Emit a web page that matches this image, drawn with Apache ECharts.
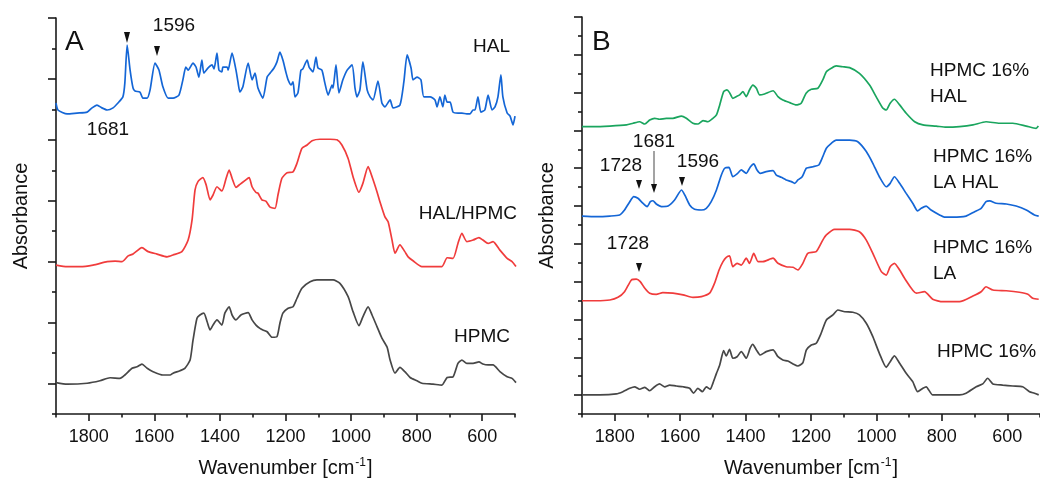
<!DOCTYPE html>
<html>
<head>
<meta charset="utf-8">
<script src="https://cdn.jsdelivr.net/npm/echarts@6/dist/echarts.min.js"></script>
<style>
html,body{margin:0;padding:0;background:#fff;}
#chart{width:1040px;height:479px;}
</style>
</head>
<body>
<div id="chart"></div>
<script>
// ---------- tick labels ----------
const xMajorTicks = [600, 800, 1000, 1200, 1400, 1600, 1800];
const xMinorTicks = [500, 700, 900, 1100, 1300, 1500, 1700, 1900];
const yMajorA = [1, 3, 5, 7, 9, 11, 13];
const yMinorA = [0, 2, 4, 6, 8, 10, 12];
const yMajorB = [1, 3, 5, 7, 9, 11, 13, 15, 17, 19, 21];
const yMinorB = [0, 2, 4, 6, 8, 10, 12, 14, 16, 18, 20];

// ---------- Panel A series: [wavenumber, absorbance (offset units)] ----------
const halA = [[1900,10.21],[1894,9.98],[1866,9.85],[1836,9.88],[1805,9.91],[1790,10.05],[1775,10.14],[1760,10.05],[1744,9.98],[1726,10.05],[1711,10.21],[1696,10.41],[1690,10.87],[1683,12.11],[1674,11.29],[1665,10.70],[1659,10.60],[1644,10.57],[1635,10.37],[1622,10.37],[1613,10.64],[1598,11.52],[1586,11.29],[1574,10.74],[1558,10.37],[1543,10.37],[1525,10.47],[1513,10.97],[1504,11.39],[1497,11.29],[1482,11.52],[1473,11.39],[1464,11.06],[1455,11.62],[1449,11.19],[1436,11.36],[1424,11.46],[1418,11.33],[1409,11.85],[1403,11.29],[1394,11.23],[1391,11.39],[1378,11.39],[1375,11.29],[1363,11.85],[1351,11.29],[1345,10.90],[1339,10.57],[1330,10.74],[1314,11.52],[1302,10.97],[1293,11.19],[1284,10.70],[1269,10.37],[1256,11.06],[1247,11.19],[1235,11.36],[1226,11.56],[1217,11.88],[1208,11.62],[1198,11.19],[1192,10.97],[1183,10.80],[1177,10.90],[1171,10.41],[1162,10.54],[1153,11.29],[1147,11.33],[1134,11.62],[1128,11.39],[1116,11.23],[1107,11.72],[1101,11.36],[1089,11.29],[1080,10.87],[1070,10.47],[1058,10.80],[1055,10.70],[1046,11.46],[1037,10.54],[1025,10.97],[1012,11.29],[997,11.46],[988,10.70],[982,10.41],[973,10.64],[964,11.56],[951,10.64],[942,10.41],[933,10.31],[918,10.93],[906,10.21],[897,10.08],[881,10.31],[872,10.05],[851,10.14],[839,10.90],[829,11.79],[817,11.36],[811,10.97],[799,11.06],[787,10.97],[778,10.41],[759,10.41],[744,10.31],[738,10.08],[729,10.41],[720,10.08],[714,10.47],[707,10.24],[698,10.24],[689,9.91],[674,9.88],[662,9.88],[647,9.85],[637,9.85],[628,9.98],[622,9.98],[613,10.41],[604,9.91],[592,9.98],[582,10.47],[570,9.98],[561,10.08],[552,10.41],[543,11.13],[537,10.41],[524,9.88],[515,9.78],[506,9.49],[500,9.78]];

const halHpmcA = [[1900,4.89],[1866,4.84],[1827,4.84],[1787,4.89],[1744,5.00],[1720,5.02],[1699,5.00],[1680,5.19],[1665,5.25],[1638,5.46],[1619,5.33],[1592,5.25],[1561,5.16],[1543,5.22],[1516,5.33],[1497,5.71],[1485,6.37],[1476,7.35],[1467,7.63],[1452,7.76],[1442,7.52],[1430,7.03],[1421,7.19],[1409,7.46],[1394,7.32],[1381,7.74],[1372,8.01],[1363,7.74],[1351,7.44],[1339,7.54],[1324,7.66],[1311,7.76],[1302,7.46],[1290,7.27],[1284,7.25],[1272,7.03],[1260,6.99],[1247,6.79],[1232,6.75],[1223,7.19],[1211,7.74],[1195,7.92],[1177,7.95],[1165,8.23],[1150,8.72],[1134,8.83],[1119,8.97],[1095,9.02],[1064,9.02],[1043,9.00],[1028,8.83],[1009,8.39],[994,7.79],[976,7.28],[964,7.57],[948,8.12],[936,7.79],[921,7.30],[912,6.97],[897,6.48],[887,6.31],[875,5.71],[866,5.28],[851,5.55],[836,5.33],[826,5.16],[811,5.03],[784,4.84],[759,4.84],[723,4.84],[707,5.13],[689,5.11],[674,5.60],[662,5.93],[647,5.66],[628,5.71],[610,5.79],[598,5.71],[582,5.60],[567,5.66],[546,5.38],[524,5.11],[509,5.00],[497,4.84]];

const hpmcA = [[1900,1.03],[1866,0.98],[1805,1.01],[1766,1.09],[1735,1.19],[1705,1.17],[1690,1.28],[1668,1.50],[1653,1.55],[1638,1.64],[1622,1.50],[1604,1.39],[1574,1.28],[1552,1.28],[1543,1.34],[1522,1.42],[1507,1.50],[1491,1.77],[1482,2.43],[1470,3.14],[1461,3.25],[1449,3.31],[1439,3.03],[1430,2.76],[1421,2.92],[1409,3.09],[1394,2.92],[1385,3.31],[1372,3.52],[1363,3.25],[1351,3.09],[1336,3.25],[1314,3.33],[1302,3.09],[1290,2.92],[1278,2.81],[1269,2.76],[1256,2.70],[1241,2.52],[1226,2.54],[1217,2.98],[1208,3.31],[1192,3.47],[1177,3.52],[1165,3.80],[1150,4.13],[1125,4.34],[1104,4.40],[1055,4.40],[1034,4.29],[1009,3.85],[994,3.36],[976,2.90],[964,3.19],[948,3.52],[936,3.25],[921,2.87],[906,2.49],[890,2.19],[881,1.77],[866,1.34],[851,1.53],[836,1.39],[820,1.20],[799,1.09],[784,1.01],[750,0.98],[723,0.95],[707,1.20],[689,1.22],[674,1.66],[662,1.77],[647,1.66],[628,1.66],[610,1.71],[598,1.64],[582,1.61],[567,1.61],[546,1.39],[524,1.22],[509,1.17],[497,1.03]];

// ---------- Panel B series ----------
const hpmc16HalB = [[1900,15.20],[1866,15.20],[1815,15.23],[1764,15.29],[1744,15.38],[1724,15.46],[1708,15.34],[1693,15.55],[1678,15.64],[1663,15.59],[1642,15.64],[1622,15.64],[1596,15.76],[1581,15.64],[1561,15.38],[1546,15.34],[1530,15.52],[1515,15.46],[1500,15.64],[1489,15.82],[1479,16.35],[1467,17.05],[1457,17.14],[1449,17.00],[1439,16.70],[1428,16.79],[1418,16.88],[1408,17.05],[1398,16.79],[1388,17.14],[1378,17.40],[1367,17.23],[1357,16.88],[1342,16.93],[1316,17.10],[1301,16.79],[1286,16.61],[1265,16.47],[1245,16.35],[1230,16.44],[1215,16.97],[1199,17.18],[1179,17.23],[1164,17.67],[1153,18.11],[1138,18.29],[1123,18.41],[1103,18.37],[1082,18.32],[1052,18.02],[1021,17.40],[1001,16.79],[980,16.17],[970,16.08],[958,16.44],[945,16.65],[929,16.35],[909,15.91],[883,15.46],[858,15.29],[817,15.23],[787,15.17],[746,15.20],[705,15.29],[665,15.46],[624,15.38],[583,15.38],[542,15.23],[512,15.11],[505,15.23]];

const hpmc16LaHalB = [[1900,10.47],[1856,10.44],[1815,10.47],[1785,10.53],[1770,10.79],[1754,11.23],[1742,11.50],[1729,11.41],[1714,11.15],[1701,10.97],[1691,11.23],[1683,11.28],[1673,11.11],[1657,10.97],[1637,11.00],[1617,11.32],[1596,11.85],[1586,11.59],[1571,11.06],[1556,10.83],[1535,10.79],[1520,10.88],[1505,11.23],[1489,11.85],[1474,12.64],[1464,13.00],[1451,13.05],[1439,12.55],[1426,12.70],[1413,12.91],[1398,12.73],[1385,13.08],[1375,13.23],[1365,12.91],[1355,12.73],[1337,12.82],[1316,12.87],[1306,12.64],[1291,12.52],[1276,12.38],[1260,12.29],[1250,12.20],[1240,12.38],[1227,12.55],[1214,13.00],[1194,13.08],[1176,13.17],[1164,13.61],[1153,14.06],[1138,14.32],[1123,14.49],[1082,14.49],[1057,14.40],[1031,13.88],[1011,13.26],[991,12.55],[970,12.02],[958,12.20],[945,12.55],[929,12.20],[909,11.67],[889,11.15],[874,10.74],[863,10.88],[848,11.00],[833,10.79],[807,10.53],[792,10.41],[767,10.41],[726,10.47],[700,10.70],[680,10.88],[665,11.23],[654,11.27],[634,11.15],[603,11.11],[573,11.00],[542,10.79],[517,10.53],[504,10.47]];

const hpmc16LaB = [[1900,5.99],[1856,5.99],[1815,6.03],[1790,6.17],[1770,6.47],[1749,7.09],[1734,7.13],[1722,7.00],[1708,6.65],[1693,6.39],[1673,6.33],[1653,6.42],[1622,6.39],[1591,6.30],[1561,6.17],[1535,6.21],[1510,6.39],[1495,6.91],[1481,7.62],[1469,8.06],[1459,8.29],[1449,8.36],[1439,7.79],[1426,7.97],[1413,7.88],[1398,8.24],[1388,7.97],[1375,8.50],[1362,8.06],[1347,8.06],[1316,8.24],[1301,7.97],[1276,7.79],[1255,7.76],[1240,7.62],[1225,7.97],[1210,8.50],[1184,8.59],[1164,9.20],[1153,9.47],[1128,9.77],[1082,9.77],[1052,9.64],[1031,9.20],[1011,8.50],[985,7.53],[970,7.35],[958,7.79],[945,7.97],[929,7.62],[914,7.18],[878,6.39],[853,6.47],[828,6.07],[797,5.94],[746,5.94],[705,6.24],[680,6.47],[665,6.73],[644,6.56],[603,6.52],[563,6.44],[537,6.33],[522,6.12],[504,6.07]];

const hpmc16B = [[1900,1.01],[1846,1.01],[1795,1.06],[1775,1.18],[1754,1.36],[1739,1.44],[1724,1.31],[1708,1.41],[1693,1.23],[1678,1.44],[1663,1.59],[1647,1.44],[1632,1.53],[1612,1.48],[1591,1.44],[1571,1.36],[1559,1.10],[1546,1.36],[1532,1.18],[1520,1.44],[1508,1.31],[1500,1.62],[1489,2.15],[1479,2.59],[1467,3.35],[1459,3.07],[1449,3.42],[1439,2.95],[1426,3.03],[1413,3.30],[1398,2.95],[1386,3.48],[1378,3.69],[1367,3.39],[1355,3.12],[1337,3.30],[1316,3.39],[1301,3.03],[1286,2.86],[1271,2.80],[1255,2.65],[1240,2.54],[1225,2.71],[1214,3.39],[1199,3.65],[1184,3.74],[1169,4.27],[1153,4.97],[1133,5.24],[1118,5.50],[1097,5.41],[1072,5.38],[1052,5.24],[1031,4.80],[1011,4.09],[991,3.21],[970,2.47],[958,2.77],[945,3.07],[929,2.68],[909,2.15],[889,1.71],[874,1.18],[858,1.36],[848,1.44],[828,1.01],[797,1.01],[746,1.01],[726,1.10],[695,1.44],[675,1.59],[660,1.89],[644,1.59],[614,1.53],[583,1.48],[553,1.44],[532,1.18],[517,1.10],[504,1.01]];

// ---------- styling ----------
const FONT = '"Liberation Sans", Arial, Helvetica, sans-serif';
const AX = '#1a1a1a';
const C_BLUE = '#1466d6', C_RED = '#f03c3c', C_GRAY = '#474747', C_GREEN = '#1aa55e';

function xAxes(g) {
  return [
    { gridIndex: g, type: 'value', min: 500, max: 1900, inverse: true, position: 'bottom',
      axisLine: { show: true, onZero: false, lineStyle: { color: AX, width: 1.6 } },
      axisTick: { show: true, length: 7, customValues: xMajorTicks, lineStyle: { color: AX, width: 1.6 } },
      axisLabel: { show: true, customValues: xMajorTicks, formatter: function (v) { return String(v); },
        fontSize: 18, color: '#111', margin: 14, fontFamily: FONT },
      splitLine: { show: false },
      name: '{a|Wavenumber [cm}{s|-1}{a|]}', nameLocation: 'middle', nameGap: 43,
      nameTextStyle: { fontFamily: FONT, color: '#111', rich: {
        a: { fontSize: 20, fontFamily: FONT, color: '#111', lineHeight: 22 },
        s: { fontSize: 12, fontFamily: FONT, color: '#111', verticalAlign: 'top', lineHeight: 22, padding: [0, 1, 0, 1] } } } },
    { gridIndex: g, type: 'value', min: 500, max: 1900, inverse: true, position: 'bottom',
      axisLine: { show: false, onZero: false },
      axisTick: { show: true, length: 3.5, customValues: xMinorTicks, lineStyle: { color: AX, width: 1.6 } },
      axisLabel: { show: false }, splitLine: { show: false } }
  ];
}
function yAxes(g, maxV, major, minor) {
  return [
    { gridIndex: g, type: 'value', min: 0, max: maxV, position: 'left',
      axisLine: { show: true, onZero: false, lineStyle: { color: AX, width: 1.6 } },
      axisTick: { show: true, length: 8, customValues: major, lineStyle: { color: AX, width: 1.6 } },
      axisLabel: { show: false }, splitLine: { show: false },
      name: 'Absorbance', nameLocation: 'middle', nameGap: 25,
      nameTextStyle: { fontFamily: FONT, fontSize: 20, color: '#111' } },
    { gridIndex: g, type: 'value', min: 0, max: maxV, position: 'left',
      axisLine: { show: false, onZero: false },
      axisTick: { show: true, length: 4, customValues: minor, lineStyle: { color: AX, width: 1.6 } },
      axisLabel: { show: false }, splitLine: { show: false } }
  ];
}

function line(data, color, xi, yi) {
  return { type: 'line', data: data, xAxisIndex: xi, yAxisIndex: yi, showSymbol: false, symbol: 'none',
    smooth: 0.2, lineStyle: { color: color, width: 1.7 }, emphasis: { disabled: true }, silent: true };
}

function txt(x, y, s, opt) {
  return Object.assign({ type: 'text', x: x, y: y, silent: true,
    style: Object.assign({ text: s, fontFamily: FONT, fontSize: 19, fill: '#111', align: 'left', verticalAlign: 'middle' }, opt || {}) });
}
function tri(x, yTop, yBot, w) {
  return { type: 'polygon', silent: true, shape: { points: [[x - w, yTop], [x + w, yTop], [x, yBot]] }, style: { fill: '#111' } };
}

const graphics = [
  txt(65, 42, 'A', { fontSize: 28 }),
  txt(174, 26, '1596', { align: 'center' }),
  txt(108, 130, '1681', { align: 'center' }),
  tri(127, 32, 43, 3),
  tri(157, 46, 56, 3),
  txt(510, 47, 'HAL', { align: 'right' }),
  txt(517, 214, 'HAL/HPMC', { align: 'right' }),
  txt(510, 337, 'HPMC', { align: 'right' }),

  txt(592, 42, 'B', { fontSize: 28 }),
  txt(930, 71, 'HPMC 16%'),
  txt(930, 97, 'HAL'),
  txt(933, 157, 'HPMC 16%'),
  txt(933, 183, 'LA HAL'),
  txt(933, 248, 'HPMC 16%'),
  txt(933, 274, 'LA'),
  txt(937, 352, 'HPMC 16%'),
  txt(621, 166, '1728', { align: 'center' }),
  txt(654, 142, '1681', { align: 'center' }),
  txt(698, 162, '1596', { align: 'center' }),
  tri(639, 180, 189, 3),
  tri(682, 177, 186, 3),
  { type: 'line', silent: true, shape: { x1: 654, y1: 151, x2: 654, y2: 186 }, style: { stroke: '#666', lineWidth: 1.2 } },
  tri(654, 184, 193, 3),
  txt(628, 244, '1728', { align: 'center' }),
  tri(639, 263, 272, 3)
];

const chart = echarts.init(document.getElementById('chart'), null, { renderer: 'canvas' });
chart.setOption({
  animation: false,
  backgroundColor: '#fff',
  grid: [
    { left: 56, top: 18, width: 459, height: 396, containLabel: false, outerBoundsMode: 'none' },
    { left: 582, top: 17, width: 458, height: 397, containLabel: false, outerBoundsMode: 'none' }
  ],
  xAxis: xAxes(0).concat(xAxes(1)),
  yAxis: yAxes(0, 13, yMajorA, yMinorA).concat(yAxes(1, 21, yMajorB, yMinorB)),
  series: [
    line(halA, C_BLUE, 0, 0),
    line(halHpmcA, C_RED, 0, 0),
    line(hpmcA, C_GRAY, 0, 0),
    line(hpmc16HalB, C_GREEN, 2, 2),
    line(hpmc16LaHalB, C_BLUE, 2, 2),
    line(hpmc16LaB, C_RED, 2, 2),
    line(hpmc16B, C_GRAY, 2, 2)
  ],
  graphic: graphics
});
</script>
</body>
</html>
